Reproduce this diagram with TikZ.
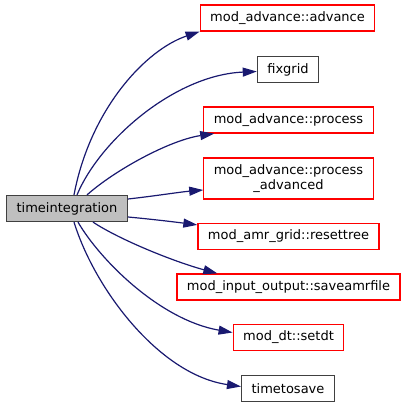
\documentclass[tikz,border=0pt]{standalone}
\usepackage{fontspec}
\setmainfont{DejaVu Sans}
\usetikzlibrary{arrows.meta}
\definecolor{edgeblue}{HTML}{191970}
\definecolor{boxgray}{HTML}{BFBFBF}
\definecolor{boxdark}{HTML}{404040}
\tikzset{
  fn/.style={draw=boxdark,line width=1.2pt,fill=white,inner xsep=10pt,
    minimum height=26pt,font=\fontsize{13}{15}\selectfont},
  fnlink/.style={fn,draw=red},
  fnroot/.style={fn,fill=boxgray},
  call/.style={edgeblue,line width=1.2pt,-{Triangle[length=14pt,width=9pt]}}
}
\begin{document}
\begin{tikzpicture}[x=1pt,y=-1pt]
	\useasboundingbox (0,0) rectangle (407,408);
	\node[fnroot] (src) at (67,208.5) {timeintegration};
	\node[fnlink] (advance) at (287.5,18) {mod\_advance::advance};
	\node[fn] (fixgrid) at (288,69.5) {fixgrid};
	\node[fnlink] (process) at (288.5,120) {mod\_advance::process};
	\node[fnlink,align=center,minimum height=41pt] (procadv) at (288.5,178.5) {mod\_advance::process\\\_advanced};
	\node[fnlink] (resettree) at (288.5,236.5) {mod\_amr\_grid::resettree};
	\node[fnlink] (saveamr) at (288.5,287) {mod\_input\_output::saveamrfile};
	\node[fnlink] (setdt) at (288.5,337.5) {mod\_dt::setdt};
	\node[fn] (timetosave) at (288,388.5) {timetosave};
	% calls
	\draw[call] ([xshift=68pt]src.north west) .. controls (90,110) and (145,50) .. (advance.south west);
	\draw[call] ([xshift=71pt]src.north west) .. controls (100,140) and (175,75) .. ([yshift=-2pt]fixgrid.west);
	\draw[call] ([xshift=81pt]src.north west) .. controls (115,170) and (170,140) .. ([xshift=11pt]process.south west);
	\draw[call] ([yshift=9.5pt]src.east) .. controls (155,196) and (180,192) .. ([yshift=-11.5pt]procadv.west);
	\draw[call] ([yshift=-8.5pt]src.east) .. controls (150,219) and (175,222) .. ([yshift=-2pt]resettree.north west);
	\draw[call] ([xshift=87pt]src.south west) .. controls (120,240) and (175,262) .. ([xshift=41pt]saveamr.north west);
	\draw[call] ([xshift=72pt]src.south west) .. controls (100,260) and (160,320) .. ([yshift=5pt]setdt.west);
	\draw[call] ([xshift=68pt]src.south west) .. controls (95,290) and (160,375) .. ([yshift=2pt]timetosave.west);
\end{tikzpicture}
\end{document}
